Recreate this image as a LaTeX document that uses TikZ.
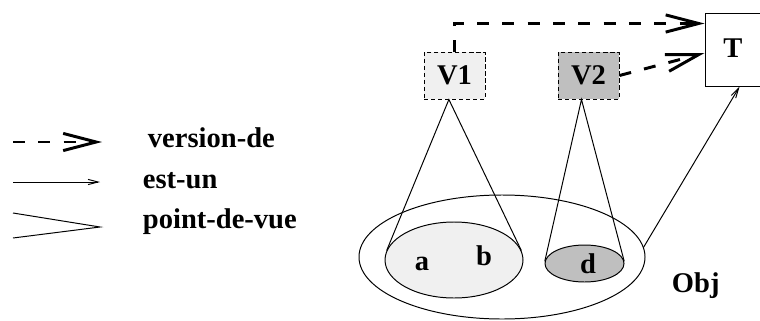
\documentclass[tikz,border=0pt]{standalone}
\usepackage{fontspec}
\setmainfont{Liberation Serif}
\usetikzlibrary{arrows.meta,shapes.geometric}
\definecolor{lightfill}{gray}{0.94}
\definecolor{darkfill}{gray}{0.75}

\begin{document}
\begin{tikzpicture}[x=0.25mm,y=0.25mm,font=\fontsize{20.3}{24}\selectfont\bfseries,
    thinline/.style={line width=0.7pt},
    version/.style={line width=2.1pt,dash pattern=on 8.5pt off 9.5pt,
      -{Straight Barb[length=8.25mm,width=4.3mm]}},
    estun/.style={line width=0.7pt,-{Straight Barb[length=2.5mm,width=1.3mm]}},
    vbox/.style={draw,line width=0.7pt,dash pattern=on 3pt off 2pt,
      minimum width=15.25mm,minimum height=11.75mm,inner sep=0pt},
    blob/.style={draw,line width=0.7pt,ellipse,inner sep=0pt}]
  \useasboundingbox (0,0) rectangle (760,320);

  % legende
  \coordinate (verA) at (13,178);
  \coordinate (verB) at (102,178);
  \coordinate (estA) at (13,138);
  \coordinate (estB) at (100,138);
  \coordinate (pdvA) at (13,107);
  \coordinate (pdvB) at (100,93);
  \coordinate (pdvC) at (13,82);
  \draw[version] (verA) -- (verB);
  \draw[estun] (estA) -- (estB);
  \draw[thinline] (pdvA) -- (pdvB) -- (pdvC);
  \node[anchor=base west] (lver) at (143,173) {version-de};
  \node[anchor=base west] (lest) at (138,132) {est-un};
  \node[anchor=base west] (lpdv) at (138,92) {point-de-vue};

  % versions et type
  \node[vbox,fill=lightfill] (v1) at (454.5,244.5) {V1};
  \node[vbox,fill=darkfill] (v2) at (588.5,244.5) {V2};
  \node[draw,line width=0.7pt,minimum width=14.5mm,minimum height=18.25mm] (t) at (734,270.5) {};
  \node (lt) at (733,272) {T};

  % objets
  \node[blob,minimum width=71.5mm,minimum height=31mm] (obj) at (502,63) {};
  \node[blob,fill=lightfill,minimum width=34.5mm,minimum height=19mm] (ab) at (454,60) {};
  \node[blob,fill=darkfill,minimum width=19.75mm,minimum height=9.25mm] (d) at (584.5,56.5) {};
  \node[anchor=base] (la) at (422,50) {a};
  \node[anchor=base] (lb) at (484,55) {b};
  \node[anchor=base] (ld) at (588,47) {d};
  \node[anchor=base west] (lobj) at (667,28) {Obj};

  % liens
  \draw[version] (v1.north) |- ([yshift=18.5]t.west);
  \draw[version] (v2.east) -- ([yshift=-2.5]t.west);
  \draw[estun] (obj.4) -- ([xshift=4]t.south);
  \draw[thinline] (ab.172) -- ([xshift=-4]v1.south) -- (ab.8);
  \draw[thinline] (d.177) -- ([xshift=-5]v2.south) -- (d.3);
\end{tikzpicture}
\end{document}
